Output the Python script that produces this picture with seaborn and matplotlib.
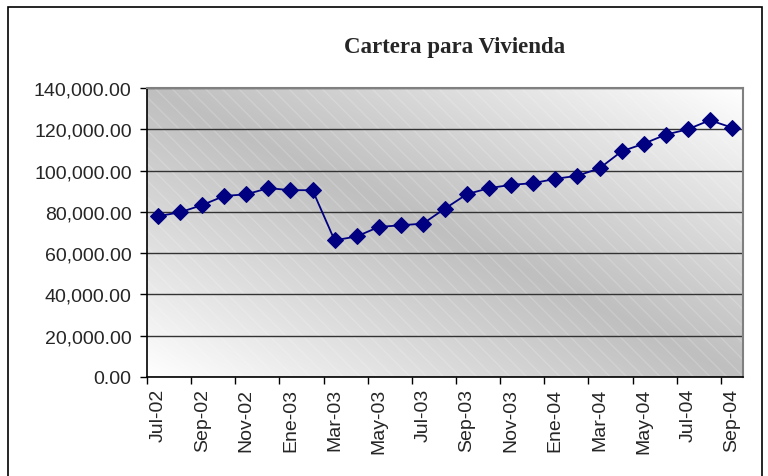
import numpy as np
import pandas as pd
import matplotlib
matplotlib.use("Agg")
import matplotlib.pyplot as plt
import matplotlib.patches as mpatches
from matplotlib.ticker import FuncFormatter, FixedLocator
import seaborn as sns

months = ["Jul-02", "Ago-02", "Sep-02", "Oct-02", "Nov-02", "Dic-02", "Ene-03", "Feb-03",
          "Mar-03", "Abr-03", "May-03", "Jun-03", "Jul-03", "Ago-03", "Sep-03", "Oct-03",
          "Nov-03", "Dic-03", "Ene-04", "Feb-04", "Mar-04", "Abr-04", "May-04", "Jun-04",
          "Jul-04", "Ago-04", "Sep-04"]
values = [77900, 79800, 83300, 87700, 88500, 91500, 90500, 90500,
          66200, 68100, 72700, 73500, 74300, 81600, 88600, 91500,
          93100, 93900, 96000, 97500, 101100, 109300, 113000, 117400,
          120000, 124400, 120800]
y_ticks = [0, 20000, 40000, 60000, 80000, 100000, 120000, 140000]
title = "Cartera para Vivienda"

sns.set_style("white")
plt.rcParams['font.family'] = ['Liberation Sans', 'DejaVu Sans']

df = pd.DataFrame({"idx": np.arange(len(months)), "valor": values})

fig = plt.figure(figsize=(7.68, 4.77), dpi=100)
ax = fig.add_axes([147/768, 1-378/477, (743-147)/768, (378-89)/477])

# gradient background
n = 200
u, v = np.meshgrid(np.linspace(0, 1, n), np.linspace(0, 1, n))
d = np.abs(u - v)  # v=0 top
g = 0.75 + 0.25 * np.clip(d, 0, 1) ** 1.1
img = np.dstack([g, g, g])
ax.imshow(img, extent=[0, 1, 0, 1], transform=ax.transAxes, aspect='auto', zorder=0,
          origin='upper', interpolation='bilinear')
hatch = mpatches.Rectangle((0, 0), 1, 1, transform=ax.transAxes, facecolor='none',
                           edgecolor=(1, 1, 1, 0.18), hatch='\\\\', linewidth=0, zorder=0.2)
ax.add_patch(hatch)

sns.lineplot(data=df, x="idx", y="valor", ax=ax, color="#000080", marker="D",
             markersize=8, markeredgecolor="#000080", linewidth=1.3, zorder=3)

ax.set_xlim(-0.5, len(months) - 0.5)
ax.set_ylim(0, 140000)
ax.set_yticks(y_ticks)
ax.yaxis.set_major_formatter(FuncFormatter(lambda x, p: f"{x:,.2f}"))
ax.grid(axis='y', color='#333333', linewidth=1.0, zorder=1)
ax.set_axisbelow(True)

major = list(range(0, len(months), 2))
ax.xaxis.set_major_locator(FixedLocator(major))
ax.set_xticklabels([months[i] for i in major], rotation=90)
ax.xaxis.set_minor_locator(FixedLocator([i - 0.5 for i in range(0, len(months), 2)]))
ax.tick_params(axis='x', which='major', length=0, pad=8, labelsize=14)
ax.tick_params(axis='x', which='minor', length=5, width=1, color='black', direction='out', bottom=True)
ax.tick_params(axis='y', which='major', length=5, width=1, color='black', direction='out', left=True, labelsize=14, pad=6)

ax.set_xlabel("")
ax.set_ylabel("")
for s in ['top', 'right']:
    ax.spines[s].set_color('#808080')
    ax.spines[s].set_linewidth(1.5)
for s in ['left', 'bottom']:
    ax.spines[s].set_color('black')
    ax.spines[s].set_linewidth(1.2)

fig.text(455/768, 1-48/477, title, ha='center', va='center', fontsize=16.5, fontweight='bold',
         family=['Liberation Serif', 'DejaVu Serif'])

border = mpatches.Rectangle((8/768, -0.05), (762-8)/768, 1-8/477+0.05, transform=fig.transFigure,
                            facecolor='none', edgecolor='black', linewidth=1.2)
fig.patches.append(border)

fig.savefig("out.png", dpi=100)
